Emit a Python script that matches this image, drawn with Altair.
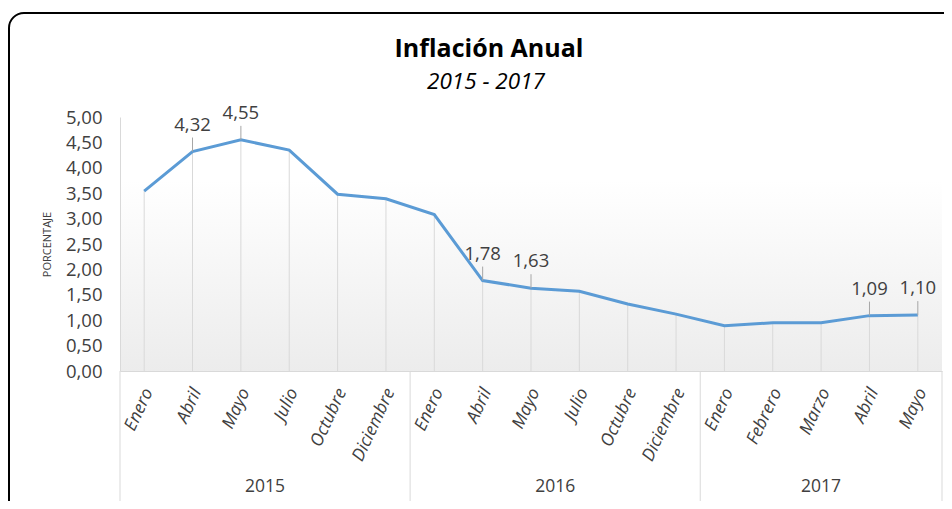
import altair as alt
import pandas as pd

years = ["2015", "2016", "2017"]
months_2015 = ["Enero", "Abril", "Mayo", "Julio", "Octubre", "Diciembre"]
months_2016 = ["Enero", "Abril", "Mayo", "Julio", "Octubre", "Diciembre"]
months_2017 = ["Enero", "Febrero", "Marzo", "Abril", "Mayo"]
values_2015 = [3.54, 4.32, 4.55, 4.35, 3.48, 3.39]
values_2016 = [3.08, 1.78, 1.63, 1.57, 1.32, 1.12]
values_2017 = [0.89, 0.95, 0.95, 1.09, 1.10]
labeled = [("2015", "Abril"), ("2015", "Mayo"), ("2016", "Abril"),
           ("2016", "Mayo"), ("2017", "Abril"), ("2017", "Mayo")]
y_ticks = [0, 0.5, 1, 1.5, 2, 2.5, 3, 3.5, 4, 4.5, 5]

title_text = "Inflación Anual"
subtitle_text = "2015 - 2017"
y_title = "PORCENTAJE"

groups = [(years[0], months_2015, values_2015),
          (years[1], months_2016, values_2016),
          (years[2], months_2017, values_2017)]

rows, bounds, centers = [], [-0.5], []
i = 0
for yr, ms, vs in groups:
    start = i
    for m, v in zip(ms, vs):
        lab = f"{v:.2f}".replace(".", ",") if (yr, m) in labeled else ""
        rows.append({"idx": i, "year": yr, "month": m, "value": v, "label": lab})
        i += 1
    bounds.append(i - 0.5)
    centers.append({"c": (start + i - 1) / 2, "year": yr})

df = pd.DataFrame(rows)
df_lab = df[df["label"] != ""]
df_b = pd.DataFrame({"b": bounds})
df_c = pd.DataFrame(centers)
one = pd.DataFrame({"a": [0]})

W, H = 822, 254
FONT = "Open Sans"
TXT = "#404040"
GRAY = "#d9d9d9"

all_months = [r["month"] for r in rows]
month_expr = "[" + ",".join(f"'{m}'" for m in all_months) + "][datum.value]"

xscale = alt.Scale(domain=[-0.5, len(rows) - 0.5], nice=False, zero=False)
yscale = alt.Scale(domain=[0, 5], nice=False)

xaxis = alt.Axis(values=list(range(len(rows))), labelExpr=month_expr, labelAngle=-65,
                 labelAlign="right", labelBaseline="middle", labelPadding=18,
                 labelOffset=4, ticks=False, tickSize=0, grid=False,
                 domainColor=GRAY, labelColor=TXT, labelFont=FONT,
                 labelFontStyle="italic", labelFontSize=17.5, title=None,
                 labelOverlap=False, labelBound=False, labelFlush=False, zindex=1)
yaxis = alt.Axis(values=y_ticks, labelExpr="replace(format(datum.value, '.2f'), '.', ',')",
                 ticks=False, tickSize=0, grid=False, domainColor=GRAY,
                 labelColor=TXT, labelFont=FONT, labelFontSize=18.5, labelPadding=18,
                 title=y_title, titleFont=FONT, titleFontSize=11, titleFontWeight="normal",
                 titleColor=TXT, titleX=-73, titleY=127, titleAngle=270,
                 titleAlign="center", titleBaseline="middle", labelOverlap=False,
                 labelFlush=False, zindex=1)

X = lambda f: alt.X(f, scale=xscale, axis=xaxis)
Y = lambda f: alt.Y(f, scale=yscale, axis=yaxis)

frame = alt.Chart(one).mark_rect(filled=False, stroke="black", strokeWidth=2,
                                 cornerRadius=15).encode(
    x=alt.value(-111), x2=alt.value(842), y=alt.value(-104), y2=alt.value(420))

bg = alt.Chart(one).mark_rect(
    fill=alt.Gradient(gradient="linear", x1=0, x2=0, y1=0, y2=1,
                      stops=[alt.GradientStop(offset=0, color="#ffffff"),
                             alt.GradientStop(offset=0.25, color="#ffffff"),
                             alt.GradientStop(offset=1, color="#ececec")])
).encode(x=alt.value(0), x2=alt.value(W), y=alt.value(0), y2=alt.value(H))

drops = alt.Chart(df).mark_rule(color=GRAY, strokeWidth=1).encode(
    x=X("idx:Q"), y=Y("value:Q"), y2=alt.datum(0))

seps = alt.Chart(df_b).mark_rule(color=GRAY, strokeWidth=1).encode(
    x=X("b:Q"), y=alt.value(H), y2=alt.value(H + 134))

line = alt.Chart(df).mark_line(color="#5B9BD5", strokeWidth=3).encode(
    x=X("idx:Q"), y=Y("value:Q"))

leaders = alt.Chart(df_lab).mark_rule(color="#a6a6a6", strokeWidth=1, y2Offset=-14).encode(
    x=X("idx:Q"), y=Y("value:Q"), y2="value:Q")

labels = alt.Chart(df_lab).mark_text(dy=-21, baseline="alphabetic", font=FONT,
                                     fontSize=18.5, color=TXT).encode(
    x=X("idx:Q"), y=Y("value:Q"), text="label:N")

yr_labels = alt.Chart(df_c).mark_text(font=FONT, fontSize=17.5, color=TXT,
                                      baseline="middle").encode(
    x=X("c:Q"), y=alt.value(H + 116), text="year:N")

title = alt.Chart(one).mark_text(font=FONT, fontSize=25, fontWeight="bold",
                                 color="#000000", baseline="alphabetic").encode(
    x=alt.value(369), y=alt.value(-60), text=alt.value(title_text))
subtitle = alt.Chart(one).mark_text(font=FONT, fontSize=22.5, fontStyle="italic",
                                    color="#000000", baseline="alphabetic").encode(
    x=alt.value(366), y=alt.value(-28), text=alt.value(subtitle_text))

chart = alt.layer(bg, frame, drops, seps, line, leaders, labels, yr_labels,
                  title, subtitle).properties(
    width=W, height=H,
    padding={"left": 112, "top": 109, "right": 2, "bottom": 130},
    autosize=alt.AutoSizeParams(type="none"),
).configure_view(stroke=None)

chart.save("out.html", embed_options={"renderer": "svg", "actions": False})
